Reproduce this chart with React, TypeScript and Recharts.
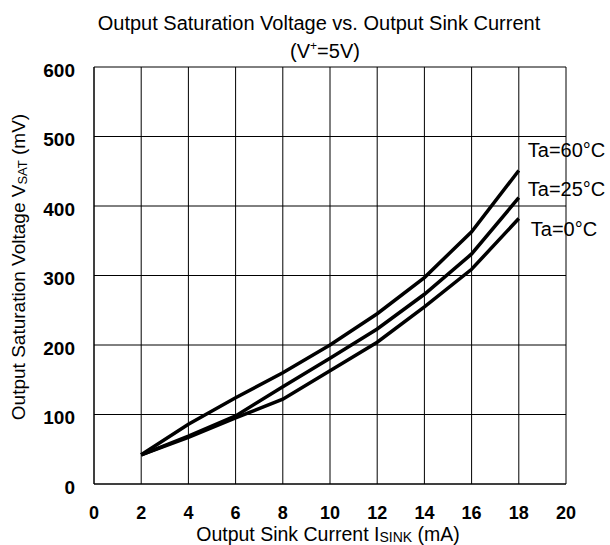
import React from 'react';
import { LineChart, Line, XAxis, YAxis, CartesianGrid, Label } from 'recharts';

const currents = [2, 4, 6, 8, 10, 12, 14, 16, 18];
const vsat60 = [42, 86, 124, 160, 200, 245, 297, 363, 451];
const vsat25 = [42, 69, 98, 140, 181, 223, 273, 331, 412];
const vsat0 = [42, 67, 95, 122, 163, 204, 255, 309, 382];
const xTicks = [0, 2, 4, 6, 8, 10, 12, 14, 16, 18, 20];
const yTicks = [0, 100, 200, 300, 400, 500, 600];
const seriesNames = ['Ta=60°C', 'Ta=25°C', 'Ta=0°C'];

const data = currents.map((c, i) => ({ i: c, t60: vsat60[i], t25: vsat25[i], t0: vsat0[i] }));

const FONT = '"Liberation Sans", Arial, sans-serif';

const endLabel = (name: string, dx: number, dy: number) => (props: any) => {
  const { x, y, index } = props;
  if (index !== currents.length - 1) return <g />;
  return (
    <text x={x + dx} y={y + dy} fontSize={20} fontFamily={FONT} fill="#000">
      {name}
    </text>
  );
};

const TitleContent = () => (
  <g fontFamily={FONT} fill="#000">
    <text x={319} y={30} textAnchor="middle" fontSize={20}>
      Output Saturation Voltage vs. Output Sink Current
    </text>
    <text x={325} y={58} textAnchor="middle" fontSize={20}>
      (V<tspan fontSize={12} dy={-8}>+</tspan><tspan dy={8}>=5V)</tspan>
    </text>
  </g>
);

const XTitle = () => (
  <text x={328} y={541} textAnchor="middle" fontSize={19.5} fontFamily={FONT} fill="#000">
    Output Sink Current I<tspan fontSize={14} dy={1}>SINK</tspan>
    <tspan dy={-1}> (mA)</tspan>
  </text>
);

const YTitle = () => (
  <text
    x={25}
    y={267}
    transform="rotate(-90 25 267)"
    textAnchor="middle"
    fontSize={19}
    fontFamily={FONT}
    fill="#000"
  >
    Output Saturation Voltage V<tspan fontSize={13} dy={2}>SAT</tspan>
    <tspan dy={-2}> (mV)</tspan>
  </text>
);

export default function App() {
  return (
    <div style={{ position: 'absolute', left: 0, top: 0, background: '#fff' }}>
      <LineChart
        width={610}
        height={545}
        data={data}
        margin={{ top: 67, right: 44, bottom: 11, left: 0 }}
      >
        <CartesianGrid stroke="#000" strokeWidth={1} horizontal vertical />
        <XAxis
          dataKey="i"
          type="number"
          domain={[0, 20]}
          ticks={xTicks}
          interval={0}
          height={50}
          tickSize={0}
          tickMargin={22}
          axisLine={{ stroke: '#000', strokeWidth: 1 }}
          tick={{ fill: '#000', fontSize: 18, fontWeight: 'bold', fontFamily: FONT }}
        >
          <Label content={XTitle} />
        </XAxis>
        <YAxis
          type="number"
          domain={[0, 600]}
          ticks={yTicks}
          interval={0}
          width={94}
          tickSize={0}
          tickMargin={19}
          axisLine={{ stroke: '#000', strokeWidth: 1 }}
          tick={{ fill: '#000', fontSize: 19, fontWeight: 'bold', fontFamily: FONT, dy: 3 }}
        >
          <Label content={YTitle} />
          <Label content={TitleContent} />
        </YAxis>
        <Line
          dataKey="t60"
          stroke="#000"
          strokeWidth={3.5}
          dot={false}
          isAnimationActive={false}
          label={endLabel(seriesNames[0], 9, -14)}
        />
        <Line
          dataKey="t25"
          stroke="#000"
          strokeWidth={3.5}
          dot={false}
          isAnimationActive={false}
          label={endLabel(seriesNames[1], 9, -2)}
        />
        <Line
          dataKey="t0"
          stroke="#000"
          strokeWidth={3.5}
          dot={false}
          isAnimationActive={false}
          label={endLabel(seriesNames[2], 12, 17)}
        />
      </LineChart>
    </div>
  );
}
